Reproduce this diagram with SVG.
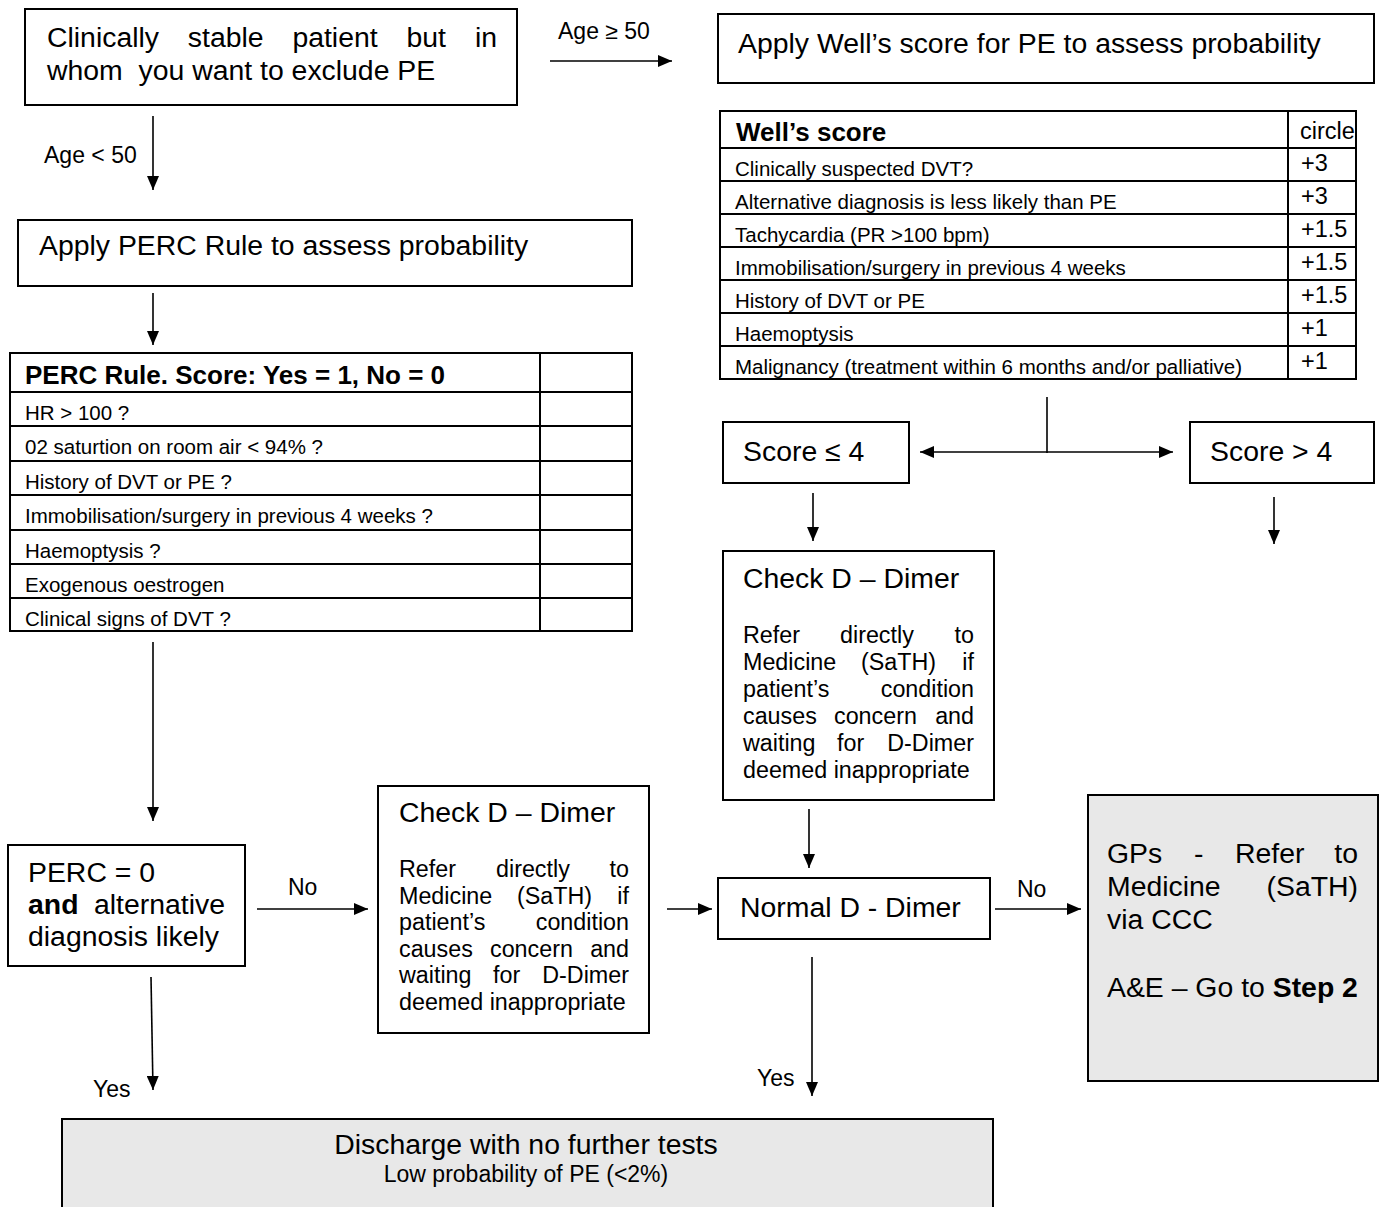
<svg xmlns="http://www.w3.org/2000/svg" width="1382" height="1207" viewBox="0 0 1382 1207">
<defs>
<marker id="ah" viewBox="0 0 14 12" refX="14" refY="6" markerWidth="14" markerHeight="12" markerUnits="userSpaceOnUse" orient="auto-start-reverse"><path d="M0,0 L14,6 L0,12 z" fill="#000"/></marker>
<style>
text{font-family:"Liberation Sans",Arial,Helvetica,sans-serif;fill:#000}
.box{fill:#fff;stroke:#000;stroke-width:2}
.grey{fill:#e8e8e8;stroke:#000;stroke-width:2}
.tl{stroke:#000;stroke-width:2;fill:none}
.big{font-size:28.4px}
.body{font-size:23.3px}
.lab{font-size:23px}
.tab{font-size:20.5px}
.val{font-size:23.5px}
.hd{font-size:26px;font-weight:bold}
.e{text-anchor:end}
.m{text-anchor:middle}
.conn line{stroke:#000;stroke-width:1.6;fill:none}
.arr{marker-end:url(#ah)}
</style>
</defs>
<rect width="1382" height="1207" fill="#fff"/>

<g id="start">
<rect class="box" x="25" y="9" width="492" height="96"/>
<text class="big" x="47" y="47">Clinically</text>
<text class="big" x="187.8" y="47">stable</text>
<text class="big" x="292.4" y="47">patient</text>
<text class="big" x="406.5" y="47">but</text>
<text class="big e" x="497" y="47">in</text>
<text class="big" x="47" y="80" xml:space="preserve">whom  you want to exclude PE</text>
</g>

<g id="wells-apply">
<rect class="box" x="718" y="14" width="656" height="69"/>
<text class="big" x="738" y="53">Apply Well’s score for PE to assess probability</text>
</g>

<g id="wells-table">
<rect class="tl" x="720" y="111" width="636" height="268"/>
<line class="tl" x1="1288" y1="111" x2="1288" y2="379"/>
<line class="tl" x1="720" y1="148" x2="1356" y2="148"/>
<line class="tl" x1="720" y1="181" x2="1356" y2="181"/>
<line class="tl" x1="720" y1="214" x2="1356" y2="214"/>
<line class="tl" x1="720" y1="247" x2="1356" y2="247"/>
<line class="tl" x1="720" y1="280" x2="1356" y2="280"/>
<line class="tl" x1="720" y1="313" x2="1356" y2="313"/>
<line class="tl" x1="720" y1="346" x2="1356" y2="346"/>
<text class="hd" x="736" y="141">Well’s score</text>
<text class="val" x="1300" y="139">circle</text>
<text class="tab" x="735" y="176">Clinically suspected DVT?</text>
<text class="val" x="1301" y="171">+3</text>
<text class="tab" x="735" y="209">Alternative diagnosis is less likely than PE</text>
<text class="val" x="1301" y="204">+3</text>
<text class="tab" x="735" y="242">Tachycardia (PR &gt;100 bpm)</text>
<text class="val" x="1301" y="237">+1.5</text>
<text class="tab" x="735" y="275">Immobilisation/surgery in previous 4 weeks</text>
<text class="val" x="1301" y="270">+1.5</text>
<text class="tab" x="735" y="308">History of DVT or PE</text>
<text class="val" x="1301" y="303">+1.5</text>
<text class="tab" x="735" y="341">Haemoptysis</text>
<text class="val" x="1301" y="336">+1</text>
<text class="tab" x="735" y="374">Malignancy (treatment within 6 months and/or palliative)</text>
<text class="val" x="1301" y="369">+1</text>
</g>

<g id="perc-apply">
<rect class="box" x="18" y="220" width="614" height="66"/>
<text class="big" x="39" y="255">Apply PERC Rule to assess probability</text>
</g>

<g id="perc-table">
<rect class="tl" x="10" y="353" width="622" height="278"/>
<line class="tl" x1="540" y1="353" x2="540" y2="631"/>
<line class="tl" x1="10" y1="392" x2="632" y2="392"/>
<line class="tl" x1="10" y1="426" x2="632" y2="426"/>
<line class="tl" x1="10" y1="461" x2="632" y2="461"/>
<line class="tl" x1="10" y1="495" x2="632" y2="495"/>
<line class="tl" x1="10" y1="530" x2="632" y2="530"/>
<line class="tl" x1="10" y1="564" x2="632" y2="564"/>
<line class="tl" x1="10" y1="598" x2="632" y2="598"/>
<text class="hd" x="25" y="384">PERC Rule. Score: Yes = 1, No = 0</text>
<text class="tab" x="25" y="420">HR &gt; 100 ?</text>
<text class="tab" x="25" y="454">02 saturtion on room air &lt; 94% ?</text>
<text class="tab" x="25" y="489">History of DVT or PE ?</text>
<text class="tab" x="25" y="523">Immobilisation/surgery in previous 4 weeks ?</text>
<text class="tab" x="25" y="558">Haemoptysis ?</text>
<text class="tab" x="25" y="592">Exogenous oestrogen</text>
<text class="tab" x="25" y="626">Clinical signs of DVT ?</text>
</g>

<g id="score-low">
<rect class="box" x="723" y="422" width="186" height="61"/>
<text class="big" x="743" y="461">Score ≤ 4</text>
</g>

<g id="score-high">
<rect class="box" x="1190" y="422" width="184" height="61"/>
<text class="big" x="1210" y="461">Score &gt; 4</text>
</g>

<g id="check-right">
<rect class="box" x="723" y="551" width="271" height="249"/>
<text class="big" x="743" y="588">Check D – Dimer</text>
<text class="body" x="743" y="643">Refer</text>
<text class="body" x="840" y="643">directly</text>
<text class="body e" x="974" y="643">to</text>
<text class="body" x="743" y="670">Medicine</text>
<text class="body" x="861" y="670">(SaTH)</text>
<text class="body e" x="974" y="670">if</text>
<text class="body" x="743" y="697">patient’s</text>
<text class="body e" x="974" y="697">condition</text>
<text class="body" x="743" y="724">causes</text>
<text class="body" x="834" y="724">concern</text>
<text class="body e" x="974" y="724">and</text>
<text class="body" x="743" y="751">waiting</text>
<text class="body" x="837" y="751">for</text>
<text class="body e" x="974" y="751">D-Dimer</text>
<text class="body" x="743" y="778">deemed inappropriate</text>
</g>

<g id="perc-zero">
<rect class="box" x="8" y="845" width="237" height="121"/>
<text class="big" x="28" y="882">PERC = 0</text>
<text class="big" x="28" y="914" font-weight="bold">and</text>
<text class="big e" x="225" y="914">alternative</text>
<text class="big" x="28" y="946">diagnosis likely</text>
</g>

<g id="check-mid">
<rect class="box" x="378" y="786" width="271" height="247"/>
<text class="big" x="399" y="822">Check D – Dimer</text>
<text class="body" x="399" y="877">Refer</text>
<text class="body" x="496" y="877">directly</text>
<text class="body e" x="629" y="877">to</text>
<text class="body" x="399" y="903.6">Medicine</text>
<text class="body" x="517" y="903.6">(SaTH)</text>
<text class="body e" x="629" y="903.6">if</text>
<text class="body" x="399" y="930.2">patient’s</text>
<text class="body e" x="629" y="930.2">condition</text>
<text class="body" x="399" y="956.8">causes</text>
<text class="body" x="490" y="956.8">concern</text>
<text class="body e" x="629" y="956.8">and</text>
<text class="body" x="399" y="983.4">waiting</text>
<text class="body" x="493" y="983.4">for</text>
<text class="body e" x="629" y="983.4">D-Dimer</text>
<text class="body" x="399" y="1010">deemed inappropriate</text>
</g>

<g id="normal-ddimer">
<rect class="box" x="718" y="878" width="272" height="61"/>
<text class="big" x="740" y="917">Normal D - Dimer</text>
</g>

<g id="refer">
<rect class="grey" x="1088" y="795" width="290" height="286"/>
<text class="big" x="1107" y="863">GPs</text>
<text class="big" x="1194" y="863">-</text>
<text class="big" x="1235" y="863">Refer</text>
<text class="big e" x="1358" y="863">to</text>
<text class="big" x="1107" y="896">Medicine</text>
<text class="big e" x="1358" y="896">(SaTH)</text>
<text class="big" x="1107" y="929">via CCC</text>
<text class="big" x="1107" y="997">A&amp;E – Go to <tspan font-weight="bold">Step 2</tspan></text>
</g>

<g id="discharge">
<rect class="grey" x="62" y="1119" width="931" height="100"/>
<text class="big m" x="526" y="1154">Discharge with no further tests</text>
<text class="lab m" x="526" y="1182">Low probability of PE (&lt;2%)</text>
</g>

<g id="connectors" class="conn">
<line class="arr" x1="550" y1="61" x2="672" y2="61"/>
<text class="lab" x="558" y="39">Age ≥ 50</text>
<line class="arr" x1="153" y1="116" x2="153" y2="190"/>
<text class="lab" x="44" y="163">Age &lt; 50</text>
<line class="arr" x1="153" y1="293" x2="153" y2="345"/>
<line x1="1047" y1="397" x2="1047" y2="453"/>
<line class="arr" x1="1047" y1="452" x2="920" y2="452"/>
<line class="arr" x1="1047" y1="452" x2="1173" y2="452"/>
<line class="arr" x1="813" y1="493" x2="813" y2="541"/>
<line class="arr" x1="1274" y1="497" x2="1274" y2="544"/>
<line class="arr" x1="153" y1="642" x2="153" y2="821"/>
<line class="arr" x1="257" y1="909" x2="368" y2="909"/>
<text class="lab" x="288" y="895">No</text>
<line class="arr" x1="151" y1="977" x2="153" y2="1090"/>
<text class="lab" x="93" y="1097">Yes</text>
<line class="arr" x1="667" y1="909" x2="712" y2="909"/>
<line class="arr" x1="809" y1="809" x2="809" y2="868"/>
<line class="arr" x1="995" y1="909" x2="1081" y2="909"/>
<text class="lab" x="1017" y="897">No</text>
<line class="arr" x1="812" y1="957" x2="812" y2="1096"/>
<text class="lab" x="757" y="1086">Yes</text>
</g>
</svg>
